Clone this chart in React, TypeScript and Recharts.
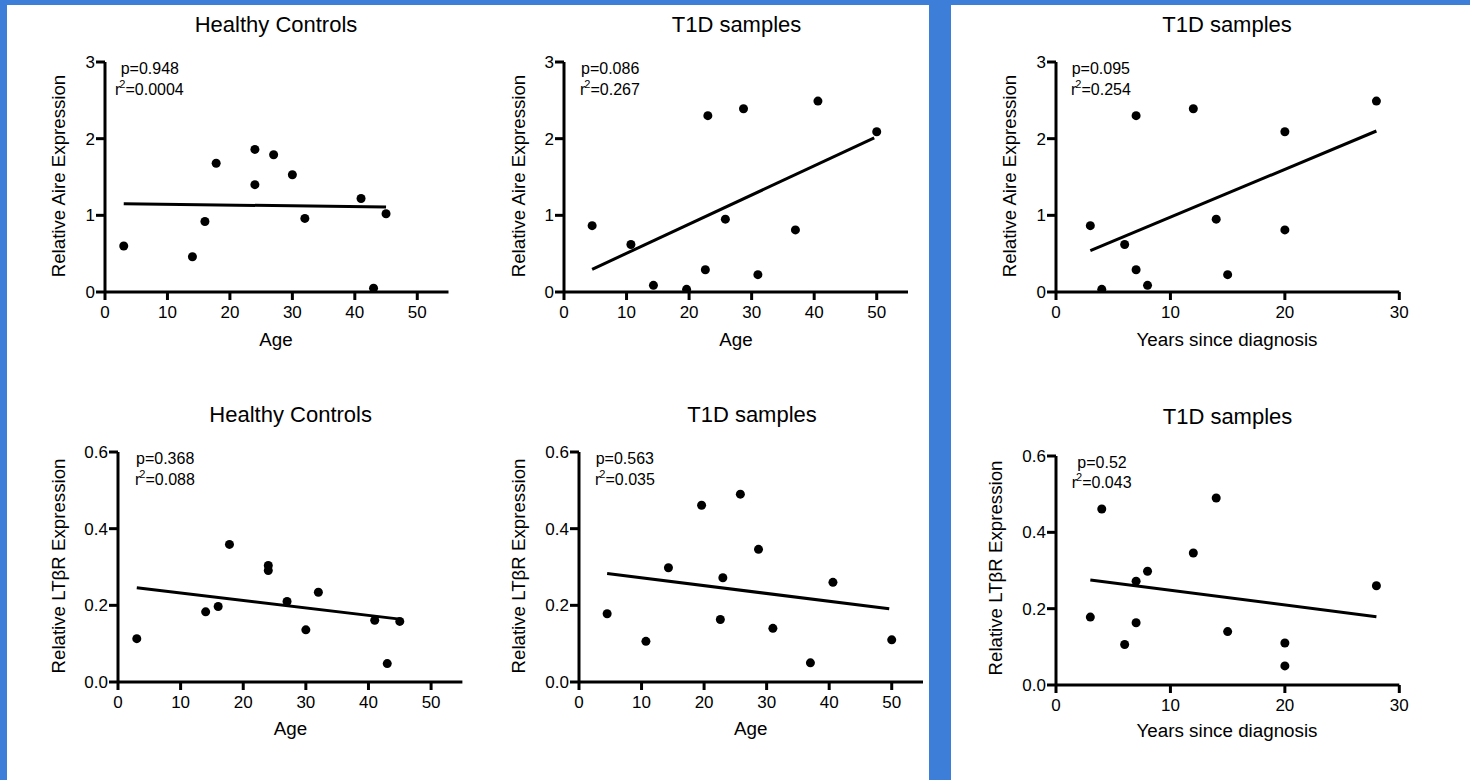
import React from 'react'
import { ScatterChart, Scatter, XAxis, YAxis } from 'recharts'

const FONT = '"Liberation Sans", Arial, Helvetica, sans-serif'
const BLUE = '#3d7ed9'

// healthy controls
const hcAge = [3, 14, 16, 17.8, 24, 24, 27, 30, 32, 41, 43, 45]
const hcAire = [0.6, 0.46, 0.92, 1.68, 1.86, 1.4, 1.79, 1.53, 0.96, 1.22, 0.05, 1.02]
const hcLtbr = [0.113, 0.183, 0.197, 0.359, 0.304, 0.291, 0.21, 0.136, 0.234, 0.161, 0.048, 0.158]

// T1D samples
const t1dAge = [4.5, 10.7, 14.3, 19.6, 22.6, 23, 25.8, 28.7, 31, 37, 40.6, 50]
const t1dYears = [3, 6, 8, 4, 7, 7, 14, 12, 15, 20, 28, 20]
const t1dAire = [0.865, 0.62, 0.087, 0.035, 0.29, 2.3, 0.95, 2.39, 0.226, 0.81, 2.49, 2.09]
const t1dLtbr = [0.178, 0.106, 0.298, 0.461, 0.163, 0.272, 0.49, 0.346, 0.14, 0.05, 0.26, 0.11]

// regression line end points [x1, x2], [y1, y2]
const fitHcAireX = [3, 45]
const fitHcAireY = [1.15, 1.11]
const fitHcLtbrX = [3, 45]
const fitHcLtbrY = [0.246, 0.164]
const fitT1dAireX = [4.5, 49.6]
const fitT1dAireY = [0.296, 2.01]
const fitT1dLtbrX = [4.5, 49.6]
const fitT1dLtbrY = [0.283, 0.191]
const fitYrsAireX = [3, 28]
const fitYrsAireY = [0.539, 2.1]
const fitYrsLtbrX = [3, 28]
const fitYrsLtbrY = [0.275, 0.179]

const ageTicks = [0, 10, 20, 30, 40, 50]
const yearTicks = [0, 10, 20, 30]
const aireTicks = [0, 1, 2, 3]
const ltbrTicks = [0, 0.2, 0.4, 0.6]

type Pt = { x: number; y: number }
const zip = (xs: number[], ys: number[]): Pt[] => xs.map((x, i) => ({ x, y: ys[i] }))

const Dot = (p: any) => <circle cx={p.cx} cy={p.cy} r={4.5} fill="#000" />
const NoDot = () => <g />

const panels = [
  {
    title: 'Healthy Controls', xLabel: 'Age', yLabel: 'Relative Aire Expression',
    p: 'p=0.948', r2: '=0.0004',
    points: zip(hcAge, hcAire), fit: zip(fitHcAireX, fitHcAireY),
    xDomain: [0, 55], xTicks: ageTicks, yDomain: [0, 3], yTicks: aireTicks, dec: 0,
    x0: 104.5, x1: 448, yTop: 62, yBot: 292,
    titleX: 276, titleY: 32.3, xlX: 276, xlY: 346.7, ylX: 57.5, ylY: 176,
    pX: 120.7, pY: 75, rX: 115, rY: 95.7,
  },
  {
    title: 'T1D samples', xLabel: 'Age', yLabel: 'Relative Aire Expression',
    p: 'p=0.086', r2: '=0.267',
    points: zip(t1dAge, t1dAire), fit: zip(fitT1dAireX, fitT1dAireY),
    xDomain: [0, 55], xTicks: ageTicks, yDomain: [0, 3], yTicks: aireTicks, dec: 0,
    x0: 564.3, x1: 908.3, yTop: 62, yBot: 292,
    titleX: 736.5, titleY: 32.3, xlX: 736, xlY: 346.7, ylX: 517.5, ylY: 176,
    pX: 581, pY: 75, rX: 580, rY: 95.7,
  },
  {
    title: 'T1D samples', xLabel: 'Years since diagnosis', yLabel: 'Relative Aire Expression',
    p: 'p=0.095', r2: '=0.254',
    points: zip(t1dYears, t1dAire), fit: zip(fitYrsAireX, fitYrsAireY),
    xDomain: [0, 30], xTicks: yearTicks, yDomain: [0, 3], yTicks: aireTicks, dec: 0,
    x0: 1056, x1: 1399.3, yTop: 62, yBot: 292,
    titleX: 1227, titleY: 32.3, xlX: 1227, xlY: 346.7, ylX: 1009, ylY: 176,
    pX: 1071.7, pY: 75, rX: 1071, rY: 95.7,
  },
  {
    title: 'Healthy Controls', xLabel: 'Age', yLabel: 'Relative LTβR Expression',
    p: 'p=0.368', r2: '=0.088',
    points: zip(hcAge, hcLtbr), fit: zip(fitHcLtbrX, fitHcLtbrY),
    xDomain: [0, 55], xTicks: ageTicks, yDomain: [0, 0.6], yTicks: ltbrTicks, dec: 1,
    x0: 118.3, x1: 462.7, yTop: 452.3, yBot: 682.3,
    titleX: 290.7, titleY: 422.3, xlX: 290.5, xlY: 735.7, ylX: 57.5, ylY: 566,
    pX: 136, pY: 465, rX: 135, rY: 485.7,
  },
  {
    title: 'T1D samples', xLabel: 'Age', yLabel: 'Relative LTβR Expression',
    p: 'p=0.563', r2: '=0.035',
    points: zip(t1dAge, t1dLtbr), fit: zip(fitT1dLtbrX, fitT1dLtbrY),
    xDomain: [0, 55], xTicks: ageTicks, yDomain: [0, 0.6], yTicks: ltbrTicks, dec: 1,
    x0: 578.7, x1: 922.7, yTop: 452.3, yBot: 682.3,
    titleX: 752, titleY: 422.3, xlX: 750.7, xlY: 735.7, ylX: 518.3, ylY: 566,
    pX: 595.7, pY: 465, rX: 595, rY: 485.7,
  },
  {
    title: 'T1D samples', xLabel: 'Years since diagnosis', yLabel: 'Relative LTβR Expression',
    p: 'p=0.52', r2: '=0.043',
    points: zip(t1dYears, t1dLtbr), fit: zip(fitYrsLtbrX, fitYrsLtbrY),
    xDomain: [0, 30], xTicks: yearTicks, yDomain: [0, 0.6], yTicks: ltbrTicks, dec: 1,
    x0: 1056, x1: 1399.3, yTop: 455.7, yBot: 684.7,
    titleX: 1227.5, titleY: 425, xlX: 1227, xlY: 738.3, ylX: 995, ylY: 568.3,
    pX: 1077.3, pY: 468.3, rX: 1071.7, rY: 488.3,
  },
]

function Txt({ x, y, size, center, children }: { x: number; y: number; size: number; center?: boolean; children: React.ReactNode }) {
  return (
    <div style={{
      position: 'absolute', left: x, top: y - 0.8465 * size, fontSize: size, lineHeight: `${size}px`,
      fontFamily: FONT, color: '#000', whiteSpace: 'nowrap',
      transform: center ? 'translateX(-50%)' : undefined,
    }}>
      {children}
    </div>
  )
}

function Panel({ c }: { c: (typeof panels)[number] }) {
  const W = c.x1 - c.x0 + 60 + 15
  const H = c.yBot - c.yTop + 10 + 40
  const axisLine = { stroke: '#000', strokeWidth: 3 }
  const tick = { fill: '#000', fontSize: 17, fontFamily: FONT }
  return (
    <>
      <div style={{ position: 'absolute', left: c.x0 - 60, top: c.yTop - 10 }}>
        <ScatterChart width={W} height={H} margin={{ top: 10, right: 15, bottom: 0, left: 0 }}>
          <XAxis type="number" dataKey="x" domain={c.xDomain} ticks={c.xTicks} interval={0}
            allowDataOverflow height={40} axisLine={axisLine} tickLine={axisLine}
            tickSize={8} tickMargin={6} tick={tick} />
          <YAxis type="number" dataKey="y" domain={c.yDomain} ticks={c.yTicks} interval={0}
            allowDataOverflow width={60} axisLine={axisLine} tickLine={axisLine}
            tickSize={9} tickMargin={1} tick={tick}
            tickFormatter={(v: number) => v.toFixed(c.dec)} />
          <Scatter data={c.points} shape={Dot} isAnimationActive={false} />
          <Scatter data={c.fit} shape={NoDot} line={{ stroke: '#000', strokeWidth: 3 }} isAnimationActive={false} />
        </ScatterChart>
      </div>
      <Txt x={c.titleX} y={c.titleY} size={22} center>{c.title}</Txt>
      <Txt x={c.xlX} y={c.xlY} size={18.8} center>{c.xLabel}</Txt>
      <div style={{
        position: 'absolute', left: c.ylX, top: c.ylY, fontSize: 18.7, lineHeight: '19px',
        fontFamily: FONT, whiteSpace: 'nowrap', transform: 'translate(-50%, -50%) rotate(-90deg)',
      }}>
        {c.yLabel}
      </div>
      <Txt x={c.pX} y={c.pY} size={16}>{c.p}</Txt>
      <Txt x={c.rX} y={c.rY} size={16}>
        r<span style={{ fontSize: 11, position: 'relative', top: -7, marginLeft: -1 }}>2</span>{c.r2}
      </Txt>
    </>
  )
}

export default function App() {
  return (
    <div style={{ position: 'absolute', left: 0, top: 0, width: 1470, height: 780, background: BLUE, overflow: 'hidden' }}>
      <div style={{ position: 'absolute', left: 7, top: 5, width: 922, height: 775, background: '#fff' }} />
      <div style={{ position: 'absolute', left: 951, top: 5, width: 519, height: 775, background: '#fff' }} />
      {panels.map((c, i) => <Panel key={i} c={c} />)}
    </div>
  )
}
